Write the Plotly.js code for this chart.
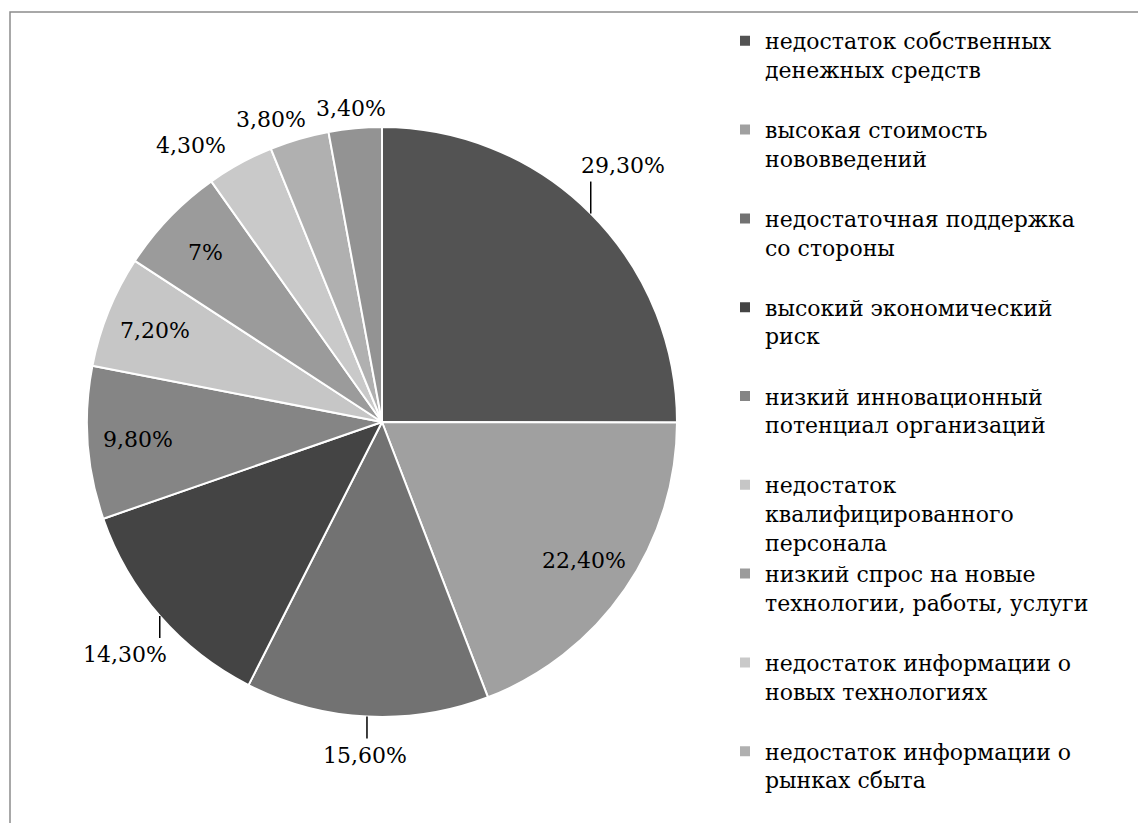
<!DOCTYPE html>
<html><head><meta charset="utf-8">
<script src="https://cdn.plot.ly/plotly-3.0.1.min.js"></script>
<style>
html,body{margin:0;padding:0;background:#fff;overflow:hidden}
#chart{width:1138px;height:823px}
.legend .scrollbar{opacity:0 !important}
</style>
</head><body><div id="chart"></div>
<script>
// ---- data ----
const categories = [
  'недостаток собственных<br>денежных средств',
  'высокая стоимость<br>нововведений',
  'недостаточная поддержка<br>со стороны',
  'высокий экономический<br>риск',
  'низкий инновационный<br>потенциал организаций',
  'недостаток<br>квалифицированного<br>персонала',
  'низкий спрос на новые<br>технологии, работы, услуги',
  'недостаток информации о<br>новых технологиях',
  'недостаток информации о<br>рынках сбыта',
  'прочие факторы'
];
const values = [29.3, 22.4, 15.6, 14.3, 9.8, 7.2, 7.0, 4.3, 3.8, 3.4];
const colors = ['#535353','#a0a0a0','#727272','#444444','#858585','#c6c6c6','#9b9b9b','#c9c9c9','#b0b0b0','#939393'];
const labelPlacement = ['outside-line','inside','outside-line','outside-line','inside','inside','inside','outside','outside','outside'];

// ---- geometry ----
const W = 1138, H = 823;
const CX = 382, CY = 422, R = 295;
const FONT = 'DejaVu Serif';
const FS = 22;
const px2x = p => p / W;
const py2y = p => 1 - p / H;

const fmt = v => (Number.isInteger(v) ? String(v) : v.toFixed(2).replace('.', ',')) + '%';
const legendLabels = categories.map(c => {
  const n = c.split('<br>').length;
  return n < 3 ? c + '<br>&nbsp;' : c;
});

const total = values.reduce((a, b) => a + b, 0);
let cum = 0;
const mids = values.map(v => { const m = (cum + v / 2) / total * 2 * Math.PI; cum += v; return m; });

const annotations = [];
const shapes = [];
// outer frame
shapes.push({type:'rect', xref:'paper', yref:'paper', x0:px2x(10), x1:px2x(W+20), y0:py2y(H+20), y1:py2y(12),
  line:{color:'#8c8c8c', width:1.5}, fillcolor:'rgba(0,0,0,0)'});

const outsideIdx = [];
values.forEach((v, i) => {
  const a = mids[i], s = Math.sin(a), c = Math.cos(a);
  const txt = fmt(v);
  const place = labelPlacement[i];
  if (place === 'inside') {
    const r = 0.83 * R;
    annotations.push({x:px2x(CX + r*s), y:py2y(CY - r*c), xref:'paper', yref:'paper', text:txt, showarrow:false,
      xanchor:'center', yanchor:'middle', font:{family:FONT, size:FS, color:'#000'}});
  } else if (place === 'outside-line') {
    const ex = CX + R*s, ey = CY - R*c;
    const up = c > 0;
    const L = up ? 32 : 22;
    const ly = up ? ey - L : ey + L;
    shapes.push({type:'line', xref:'paper', yref:'paper', x0:px2x(ex), x1:px2x(ex), y0:py2y(ey), y1:py2y(ly),
      line:{color:'#000', width:1.5}});
    annotations.push({x:px2x(ex + s*46), y:py2y(up ? ly - 2 : ly + 2), xref:'paper', yref:'paper', text:txt, showarrow:false,
      xanchor:'center', yanchor: up ? 'bottom' : 'top', font:{family:FONT, size:FS, color:'#000'}});
  } else {
    outsideIdx.push(i);
  }
});
// outside labels without leader lines, placed from the top going counter-clockwise, avoiding overlap
let prevLeft = null;
outsideIdx.slice().reverse().forEach(i => {
  const a = mids[i], s = Math.sin(a), c = Math.cos(a);
  const txt = fmt(values[i]);
  const halfW = txt.length * 7, halfH = 12;
  const r = R + 8;
  let cx = CX + r*s + s*halfW, cy = CY - r*c - c*halfH;
  if (prevLeft !== null && cx + halfW > prevLeft - 10) cx = prevLeft - 10 - halfW;
  prevLeft = cx - halfW;
  annotations.push({x:px2x(cx), y:py2y(cy), xref:'paper', yref:'paper', text:txt, showarrow:false,
    xanchor:'center', yanchor:'middle', font:{family:FONT, size:FS, color:'#000'}});
});

const trace = {
  type:'pie',
  labels: legendLabels,
  values: values,
  sort:false,
  direction:'clockwise',
  rotation:0,
  textinfo:'none',
  hoverinfo:'label+percent',
  marker:{colors:colors, line:{color:'#ffffff', width:2}},
  domain:{x:[px2x(CX-R), px2x(CX+R)], y:[py2y(CY+R), py2y(CY-R)]}
};

const layout = {
  width:W, height:H,
  margin:{l:0, r:0, t:0, b:0, autoexpand:false},
  paper_bgcolor:'#fff',
  font:{family:FONT, size:FS, color:'#000'},
  showlegend:true,
  legend:{x:px2x(725), xanchor:'left', y:py2y(20), yanchor:'top', valign:'top',
    bgcolor:'rgba(0,0,0,0)', borderwidth:0, font:{family:FONT, size:FS, color:'#000'}, maxheight:775},
  annotations: annotations,
  shapes: shapes
};

Plotly.newPlot('chart', [trace], layout, {displayModeBar:false, staticPlot:true});
</script>
</body></html>
